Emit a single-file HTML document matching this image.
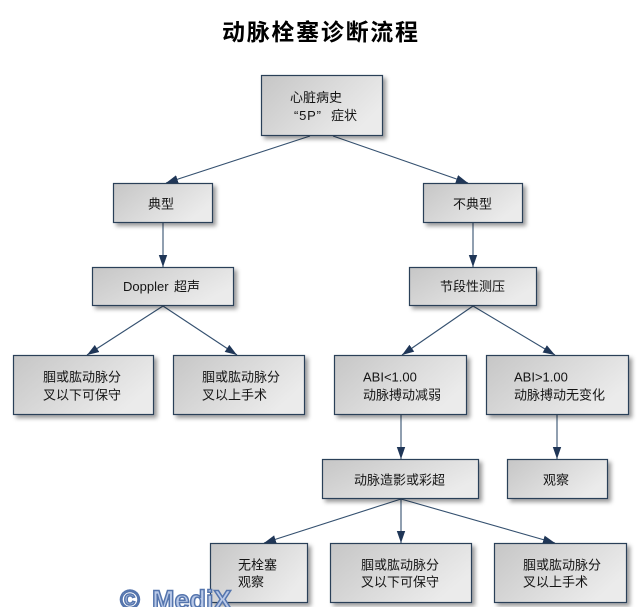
<!DOCTYPE html>
<html>
<head>
<meta charset="utf-8">
<style>
  html, body { margin: 0; padding: 0; background: #ffffff; }
  svg { display: block; }
  .t { font-family: "Liberation Sans", "Noto Sans CJK SC", sans-serif; font-size: 13px; fill: #141414; }
</style>
</head>
<body>
<svg width="642" height="607" viewBox="0 0 642 607" xmlns="http://www.w3.org/2000/svg">
  <defs>
    <linearGradient id="g" x1="0" y1="0" x2="1" y2="0.5">
      <stop offset="0" stop-color="#c6c6c6"/>
      <stop offset="1" stop-color="#ebebeb"/>
    </linearGradient>
    <filter id="sh" x="-10%" y="-10%" width="130%" height="140%">
      <feDropShadow dx="3" dy="3" stdDeviation="2" flood-color="#000" flood-opacity="0.4"/>
    </filter>
    <marker id="ar" markerUnits="userSpaceOnUse" markerWidth="14" markerHeight="10" refX="12" refY="5" orient="auto">
      <path d="M0,0.8 L12,5 L0,9.2 Z" fill="#1f3657"/>
    </marker>
  </defs>

  <!-- title -->
  <text x="222" y="40" textLength="196" lengthAdjust="spacing" style="font-family:'Liberation Sans','Noto Sans CJK SC',sans-serif;font-size:23px;font-weight:bold;fill:#000;">动脉栓塞诊断流程</text>

  <!-- connectors -->
  <g stroke="#34506f" stroke-width="1.1" fill="none" marker-end="url(#ar)">
    <line x1="310" y1="136" x2="166" y2="183"/>
    <line x1="333" y1="136" x2="468" y2="183"/>
    <line x1="163" y1="223" x2="163" y2="267"/>
    <line x1="473" y1="223" x2="473" y2="267"/>
    <line x1="163" y1="306" x2="87" y2="355"/>
    <line x1="163" y1="306" x2="237" y2="355"/>
    <line x1="473" y1="306" x2="402" y2="355"/>
    <line x1="473" y1="306" x2="555" y2="355"/>
    <line x1="401" y1="415" x2="401" y2="459"/>
    <line x1="557" y1="415" x2="557" y2="459"/>
    <line x1="401" y1="499" x2="264" y2="543"/>
    <line x1="401" y1="499" x2="401" y2="543"/>
    <line x1="401" y1="499" x2="555" y2="543"/>
  </g>

  <!-- boxes -->
  <g fill="url(#g)" stroke="#2c3f58" stroke-width="1.2" filter="url(#sh)">
    <rect x="261.5" y="75.5" width="121" height="60"/>
    <rect x="113.5" y="183.5" width="99" height="39"/>
    <rect x="423.5" y="183.5" width="99" height="39"/>
    <rect x="92.5" y="267.5" width="141" height="38"/>
    <rect x="409.5" y="267.5" width="127" height="38"/>
    <rect x="13.5" y="355.5" width="140" height="59"/>
    <rect x="173.5" y="355.5" width="131" height="59"/>
    <rect x="334.5" y="355.5" width="132" height="59"/>
    <rect x="486.5" y="355.5" width="142" height="59"/>
    <rect x="322.5" y="459.5" width="156" height="39"/>
    <rect x="507.5" y="459.5" width="100" height="39"/>
    <rect x="210.5" y="543.5" width="97" height="59"/>
    <rect x="330.5" y="543.5" width="141" height="59"/>
    <rect x="494.5" y="543.5" width="132" height="59"/>
  </g>

  <!-- labels -->
  <text class="t" x="290" y="102">心脏病史</text>
  <text class="t" y="120"><tspan x="294" textLength="27" lengthAdjust="spacing">“5P”</tspan><tspan x="331">症状</tspan></text>

  <text class="t" x="148" y="208.5">典型</text>
  <text class="t" x="453" y="208.5">不典型</text>

  <text class="t" y="291"><tspan x="123">Doppler</tspan><tspan x="174">超声</tspan></text>
  <text class="t" x="440" y="291">节段性测压</text>

  <text class="t" x="43" y="381.5">腘或肱动脉分</text>
  <text class="t" x="43" y="399.5">叉以下可保守</text>
  <text class="t" x="202" y="381.5">腘或肱动脉分</text>
  <text class="t" x="202" y="399.5">叉以上手术</text>
  <text class="t" x="363" y="381.5">ABI&lt;1.00</text>
  <text class="t" x="363" y="399.5">动脉搏动减弱</text>
  <text class="t" x="514" y="381.5">ABI&gt;1.00</text>
  <text class="t" x="514" y="399.5">动脉搏动无变化</text>

  <text class="t" x="354" y="484.5">动脉造影或彩超</text>
  <text class="t" x="543" y="484.5">观察</text>

  <text class="t" x="238" y="569.5">无栓塞</text>
  <text class="t" x="238" y="586.5">观察</text>
  <text class="t" x="361" y="569.5">腘或肱动脉分</text>
  <text class="t" x="361" y="586.5">叉以下可保守</text>
  <text class="t" x="523" y="569.5">腘或肱动脉分</text>
  <text class="t" x="523" y="586.5">叉以上手术</text>

  <!-- watermark -->
  <text x="120" y="609" style="font-family:'Liberation Sans',sans-serif;font-size:27px;font-weight:bold;fill:#b9c9e8;stroke:#5575ad;stroke-width:1.5;">©<tspan x="152">MediX</tspan></text>
</svg>
</body>
</html>
